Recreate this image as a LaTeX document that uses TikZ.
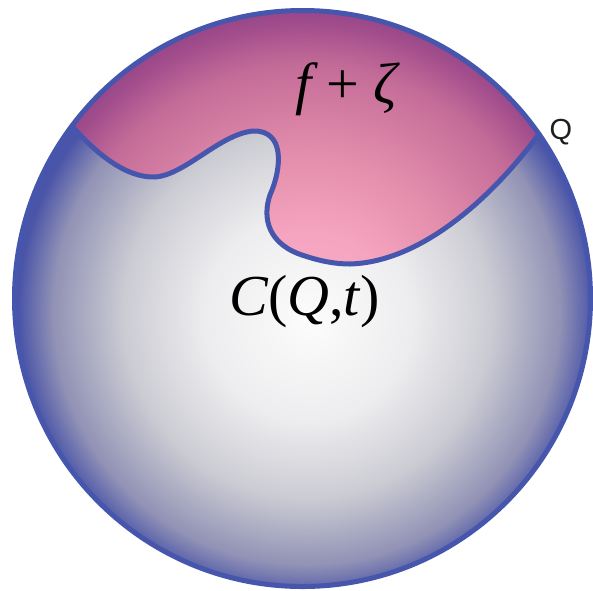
\documentclass[tikz,border=0pt]{standalone}
\usepackage{fontspec}
\newfontfamily\tms{Liberation Serif}
\newfontfamily\arl{Liberation Sans}
\definecolor{sp0}{RGB}{252,252,252}
\definecolor{sp1}{RGB}{237,237,239}
\definecolor{sp2}{RGB}{203,203,211}
\definecolor{sp3}{RGB}{145,146,181}
\definecolor{sp4}{RGB}{74,84,168}
\definecolor{pk0}{RGB}{248,170,196}
\definecolor{pk1}{RGB}{245,165,191}
\definecolor{pk2}{RGB}{228,142,172}
\definecolor{pk3}{RGB}{196,108,152}
\definecolor{pk4}{RGB}{160,76,140}
\definecolor{pk5}{RGB}{140,62,135}
\definecolor{outl}{RGB}{70,86,172}
\definecolor{qcol}{RGB}{30,30,30}
\pgfdeclareradialshading{sphereshade}{\pgfpoint{0.6bp}{-2bp}}{color(0bp)=(sp0); color(9bp)=(sp1); color(16bp)=(sp2); color(22bp)=(sp3); color(25bp)=(sp4); color(50bp)=(sp4)}
\pgfdeclareradialshading{pinkshade}{\pgfpoint{0.6bp}{-2bp}}{color(0bp)=(pk0); color(7.4bp)=(pk1); color(13.9bp)=(pk2); color(21.4bp)=(pk3); color(25bp)=(pk4); color(27.7bp)=(pk5); color(50bp)=(pk5)}
\begin{document}
\begin{tikzpicture}[x=1pt,y=-1pt,
  outline/.style={draw=outl,line width=5pt,line join=round,line cap=round},
  mathlbl/.style={inner sep=0pt,anchor=base,font=\tms\fontsize{58}{62}\selectfont},
  ptlbl/.style={inner sep=0pt,anchor=base,text=qcol,font=\arl\fontsize{29}{32}\selectfont}]
\useasboundingbox (0,0) rectangle (593,590);
\coordinate (O) at (302.5,298.5);
\coordinate (A) at (71.9,126.0);
\coordinate (Qp) at (539.0,134.1);
\shade[shading=sphereshade] (O) circle[radius=288];
\begin{scope}
\clip (A) .. controls (95,152) and (125,178) .. (155,177)
  .. controls (185,175) and (220,134) .. (253,131)
  .. controls (285,130) and (282,168) .. (270,195)
  .. controls (262,218) and (268,245) .. (305,256)
  .. controls (320,261) and (335,264) .. (350,264)
  .. controls (420,262) and (490,200) .. (Qp)
  arc[start angle=-34.8,end angle=-143.2,radius=288] -- cycle;
\shade[shading=pinkshade] (O) circle[radius=288];
\end{scope}
\draw[outline] (A) .. controls (95,152) and (125,178) .. (155,177)
  .. controls (185,175) and (220,134) .. (253,131)
  .. controls (285,130) and (282,168) .. (270,195)
  .. controls (262,218) and (268,245) .. (305,256)
  .. controls (320,261) and (335,264) .. (350,264)
  .. controls (420,262) and (490,200) .. (Qp);
\draw[outline] (O) circle[radius=288];
\node[mathlbl] (fz) at (346.5,103) {{\itshape f} + {\itshape ζ}};
\node[mathlbl] (cq) at (304.5,315) {{\itshape C}({\itshape Q},{\itshape t})};
\node[ptlbl] (q) at (561,139) {Q};
\end{tikzpicture}
\end{document}
